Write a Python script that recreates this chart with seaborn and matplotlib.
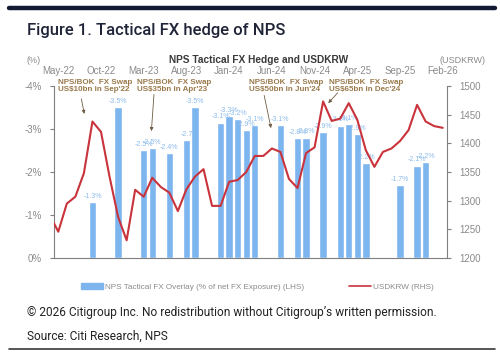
#!/usr/bin/env python3
"""NPS tactical FX hedge (bars, LHS) against USDKRW (line, RHS)."""
import numpy as np
import pandas as pd
import matplotlib
matplotlib.use("Agg")
import matplotlib.pyplot as plt
import matplotlib.transforms as mtransforms
from matplotlib.lines import Line2D
from matplotlib.patches import Patch
import seaborn as sns

# Monthly categories, May-22 .. Feb-26
months = pd.period_range("2022-05", "2026-02", freq="M").strftime("%b-%y").tolist()
tick_months = months[::5]

# NPS tactical FX overlay (% of net FX exposure), months with a bar only
bar_months = ["Sep-22", "Dec-22", "Mar-23", "Apr-23", "Jun-23", "Aug-23", "Sep-23",
              "Dec-23", "Jan-24", "Feb-24", "Mar-24", "Apr-24", "Jul-24", "Sep-24",
              "Oct-24", "Dec-24", "Feb-25", "Mar-25", "Apr-25", "May-25", "Sep-25",
              "Nov-25", "Dec-25"]
bar_values = [-1.3, -3.5, -2.5, -2.55, -2.45, -2.75, -3.5,
              -3.15, -3.3, -3.22, -2.97, -3.1, -3.1, -2.78,
              -2.8, -2.92, -3.08, -3.12, -2.88, -2.2, -1.7,
              -2.15, -2.23]
bar_labels = ["-1.3%", "-3.5%", "-2.5%", "-2.5%", "-2.4%", "-2.7", "-3.5%",
              "-3.1%", "-3.3%", "-3.2%", "-2.9%", "-3.1%", "-3.1%", "-2.8%",
              "-2.8%", "-2.9%", "-3.1%", "-3.1%", "-2.9%", "-2.2%", "-1.7%",
              "-2.1%", "-2.2%"]

# USDKRW, monthly from Apr-22 (first point sits just left of the axis)
line_months = ["Apr-22"] + months
usdkrw = [1275, 1246, 1295, 1307, 1348, 1438, 1420, 1342, 1272, 1231, 1319,
          1307, 1340, 1324, 1314, 1282, 1320, 1342, 1355, 1291, 1291,
          1333, 1336, 1350, 1378, 1378, 1391, 1385, 1338, 1322, 1383, 1393,
          1473, 1439, 1443, 1470, 1441, 1388, 1359, 1385, 1391, 1404, 1423,
          1467, 1438, 1430, 1427]

# Swap annotations: text, text anchor (month pos, %), arrow tail, arrow head
notes = [
    ("NPS/BOK  FX Swap\nUS$10bn in Sep'22", (-0.05, -4.0), (2.7, -3.7), (3.05, -3.35)),
    ("NPS/BOK  FX Swap\nUS$35bn in Apr'23", (9.25, -4.0), (11.2, -3.8), (10.9, -2.95)),
    ("NPS/BOK  FX Swap\nUS$50bn in Jun'24", (22.3, -4.0), (24.1, -3.78), (24.9, -3.02)),
    ("NPS/BOK  FX Swap\nUS$65bn in Dec'24", (31.7, -4.0), (32.7, -3.84), (31.6, -3.6)),
]

BAR_BLUE = "#7db5ef"
LABEL_BLUE = "#8ebcec"
LINE_RED = "#c9333b"
GREY = "#7f7f7f"
NOTE_BROWN = "#9a7a4c"
NAVY = "#141a33"

sns.set_style("white")
plt.rcParams["font.family"] = ["Liberation Sans", "DejaVu Sans"]

df = pd.DataFrame({"month": months})
df["hedge"] = df["month"].map(dict(zip(bar_months, bar_values)))

fig = plt.figure(figsize=(5.0, 3.58), dpi=100)
ax = fig.add_axes([0.108, 0.279, 0.786, 0.481])

sns.barplot(data=df, x="month", y="hedge", order=months, color=BAR_BLUE,
            saturation=1, width=0.86, errorbar=None, ax=ax)

for m, v, lab in zip(bar_months, bar_values, bar_labels):
    ax.annotate(lab, (months.index(m), v), xytext=(0, 1.5), textcoords="offset points",
                ha="center", va="bottom", fontsize=5.0, color=LABEL_BLUE)

ax.set_ylim(0, -4)
ax.set_yticks([0, -1, -2, -3, -4])
ax.set_yticklabels(["0%", "-1%", "-2%", "-3%", "-4%"])
ax.set_xlabel("")
ax.set_ylabel("")

ax2 = ax.twinx()
line_pos = np.arange(len(usdkrw)) - 1
sns.lineplot(x=line_pos, y=usdkrw, ax=ax2, color=LINE_RED, linewidth=1.5)
ax2.set_ylim(1200, 1500)
ax2.set_yticks(range(1200, 1501, 50))
ax2.set_ylabel("")

ax.set_xlim(-0.5, len(months) - 0.5)
ax.set_xticks(np.arange(-0.5, len(months), 5))
ax.set_xticklabels([])

for a in (ax, ax2):
    for s in a.spines.values():
        s.set_visible(False)
    a.tick_params(colors=GREY, labelsize=7, length=3, width=0.8, direction="out", pad=2)
ax.spines["left"].set_visible(True)
ax.spines["bottom"].set_visible(True)
ax2.spines["right"].set_visible(True)
for s in (ax.spines["left"], ax.spines["bottom"], ax2.spines["right"]):
    s.set_color(GREY)
    s.set_linewidth(0.8)
ax.tick_params(axis="y", labelcolor="#8a8a8a", pad=6)
ax2.tick_params(axis="y", labelcolor="#8a8a8a", pad=6)

# month labels above the plot
trans = mtransforms.blended_transform_factory(ax.transData, ax.transAxes)
for m in tick_months:
    ax.text(months.index(m), 1.088, m, transform=trans, ha="center", va="center",
            fontsize=7, color="#8a8a8a")

for text, xy_text, tail, head in notes:
    ax.text(xy_text[0], xy_text[1], text, ha="left", va="center", fontsize=5.8,
            fontweight="bold", color=NOTE_BROWN, linespacing=1.15, clip_on=False)
    ax.annotate("", xy=head, xytext=tail, annotation_clip=False,
                arrowprops=dict(arrowstyle="-|>", color="#6e5c44", lw=0.6,
                                mutation_scale=5, shrinkA=0, shrinkB=0))

# headings
fig.text(0.054, 0.915, "Figure 1. Tactical FX hedge of NPS", fontsize=12,
         fontweight="medium", color="#1f2438", family=["Roboto", "DejaVu Sans"],
         va="center")
fig.text(0.518, 0.832, "NPS Tactical FX Hedge and USDKRW", fontsize=7.3,
         fontweight="bold", color="#3a3a3a", ha="center", va="center")
fig.text(0.068, 0.832, "(%)", fontsize=6.5, color="#8a8a8a", ha="center", va="center")
fig.text(0.925, 0.832, "(USDKRW)", fontsize=6.5, color="#8a8a8a", ha="center", va="center")

handles = [Patch(color=BAR_BLUE), Line2D([], [], color=LINE_RED, lw=1.2)]
leg = fig.legend(handles, ["NPS Tactical FX Overlay (% of net FX Exposure) (LHS)",
                           "USDKRW (RHS)"],
                 loc="center", bbox_to_anchor=(0.515, 0.198), ncol=2, frameon=False,
                 fontsize=5.9, handlelength=2.6, handleheight=0.6, handletextpad=0.3,
                 columnspacing=5.5)
for t in leg.get_texts():
    t.set_color("#8a8a8a")

fig.text(0.054, 0.126, "\u00a9 2026 Citigroup Inc. No redistribution without Citigroup\u2019s written permission.",
         fontsize=8.6, color="#222222", family=["Roboto", "DejaVu Sans"], va="center")
fig.text(0.054, 0.062, "Source: Citi Research, NPS", fontsize=8.6, color="#222222",
         family=["Roboto", "DejaVu Sans"], va="center")

fig.add_artist(Line2D([0.018, 0.99], [0.979, 0.979], lw=3.2, color=NAVY))
fig.add_artist(Line2D([0.018, 0.99], [0.025, 0.025], lw=1.2, color="#3a3a3a"))

fig.savefig("out.png", dpi=100, facecolor="white")
